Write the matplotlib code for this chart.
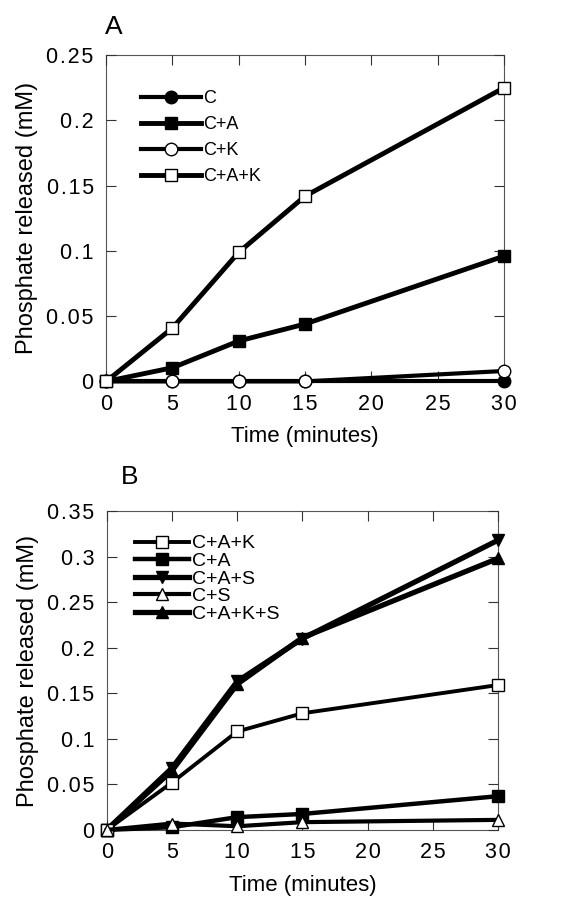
import matplotlib
matplotlib.use("Agg")
import matplotlib.pyplot as plt

plt.rcParams['font.family'] = ['Liberation Sans', 'DejaVu Sans']

time = [0, 5, 10, 15, 30]

# panel A
a_c = [0, 0, 0, 0, 0]
a_ca = [0, 0.0105, 0.031, 0.044, 0.096]
a_ck = [0, 0, 0, 0, 0.008]
a_cak = [0, 0.041, 0.099, 0.142, 0.225]

# panel B
b_cak = [0, 0.052, 0.108, 0.128, 0.159]
b_ca = [0, 0.003, 0.014, 0.0175, 0.037]
b_cas = [0, 0.068, 0.163, 0.210, 0.318]
b_cs = [0, 0.007, 0.004, 0.0085, 0.011]
b_caks = [0, 0.065, 0.160, 0.211, 0.298]

xticks = [0, 5, 10, 15, 20, 25, 30]
a_yticks = [0, 0.05, 0.1, 0.15, 0.2, 0.25]
a_ylabels = ['0', '0.05', '0.1', '0.15', '0.2', '0.25']
b_yticks = [0, 0.05, 0.1, 0.15, 0.2, 0.25, 0.3, 0.35]
b_ylabels = ['0', '0.05', '0.1', '0.15', '0.2', '0.25', '0.3', '0.35']


def spaced(s):
    # the original tick labels have a bit of letter spacing
    return '\u200a'.join(s) if len(s) > 1 else s


def style_axes(ax, yticks, ylabels, ymax):
    ax.set_xlim(0, 30)
    ax.set_ylim(0, ymax)
    ax.set_xticks(xticks)
    ax.set_xticklabels([spaced(str(t)) for t in xticks])
    ax.set_yticks(yticks)
    ax.set_yticklabels([spaced(l) for l in ylabels])
    ax.tick_params(direction='in', length=7, width=0.8, top=True, right=True,
                   labelsize=15.5, pad=9, color='#333333')
    for sp in ax.spines.values():
        sp.set_linewidth(0.8)
        sp.set_color('#555555')
        sp.set_zorder(0)
    ax.set_xlabel('Time (minutes)', fontsize=16, labelpad=8)
    ax.set_ylabel('Phosphate released (mM)', fontsize=17, labelpad=6)


fig = plt.figure(figsize=(5.68, 9.06), dpi=100)

axA = fig.add_axes([0.187, 0.579, 0.700, 0.360])
ms = 9
axA.plot(time, a_c, '-', color='black', lw=3, marker='o', ms=ms, mfc='black', mec='black', label='C', clip_on=False, zorder=3)
axA.plot(time, a_ca, '-', color='black', lw=3.5, marker='s', ms=ms, mfc='black', mec='black', label='C+A', clip_on=False, zorder=4)
axA.plot(time, a_ck, '-', color='black', lw=3, marker='o', ms=ms, mfc='white', mec='black', mew=1, label='C+K', clip_on=False, zorder=5)
axA.plot(time, a_cak, '-', color='black', lw=3.5, marker='s', ms=ms, mfc='white', mec='black', mew=1, label='C+A+K', clip_on=False, zorder=6)
style_axes(axA, a_yticks, a_ylabels, 0.25)
axA.legend(loc='upper left', bbox_to_anchor=(0.07, 0.915), frameon=False, fontsize=13,
           handlelength=3.3, handletextpad=0.15, labelspacing=0.5, borderaxespad=0)
fig.text(0.185, 0.963, 'A', fontsize=19)

axB = fig.add_axes([0.188, 0.084, 0.689, 0.352])
ms = 8
axB.plot(time, b_cak, '-', color='black', lw=2.8, marker='s', ms=ms + 1, mfc='white', mec='black', mew=1, label='C+A+K', clip_on=False, zorder=5)
axB.plot(time, b_ca, '-', color='black', lw=3.2, marker='s', ms=ms + 1, mfc='black', mec='black', label='C+A', clip_on=False, zorder=4)
axB.plot(time, b_cas, '-', color='black', lw=3.8, marker='v', ms=ms, mfc='black', mec='black', label='C+A+S', clip_on=False, zorder=3)
axB.plot(time, b_cs, '-', color='black', lw=3.0, marker='^', ms=ms, mfc='white', mec='black', mew=1, label='C+S', clip_on=False, zorder=6)
axB.plot(time, b_caks, '-', color='black', lw=3.8, marker='^', ms=ms, mfc='black', mec='black', label='C+A+K+S', clip_on=False, zorder=3)
style_axes(axB, b_yticks, b_ylabels, 0.35)
axB.legend(loc='upper left', bbox_to_anchor=(0.052, 0.95), frameon=False, fontsize=14,
           handlelength=2.8, handletextpad=0.15, labelspacing=0.0, borderaxespad=0)
fig.text(0.212, 0.466, 'B', fontsize=19)

fig.savefig('out.png', dpi=100)
